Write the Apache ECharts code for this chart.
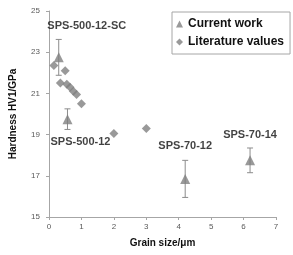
<!DOCTYPE html>
<html><head><meta charset="utf-8">
<script src="https://cdn.jsdelivr.net/npm/echarts@6/dist/echarts.min.js"></script>
<style>html,body{margin:0;padding:0;background:#fff}#c{width:293px;height:255px}</style>
</head><body><div id="c"></div>
<script>
// Data
const currentNames = ['SPS-500-12-SC', 'SPS-500-12', 'SPS-70-12', 'SPS-70-14'];
const currentX = [0.3, 0.57, 4.2, 6.2];
const currentY = [22.75, 19.75, 16.85, 17.75];
const currentErr = [0.87, 0.5, 0.9, 0.6];
const literatureX = [0.15, 0.5, 0.35, 0.55, 0.65, 0.75, 0.85, 1.0, 2.0, 3.0];
const literatureY = [22.35, 22.1, 21.5, 21.45, 21.3, 21.1, 20.95, 20.5, 19.05, 19.3];
const xTicks = [0, 1, 2, 3, 4, 5, 6, 7];
const yTicks = [15, 17, 19, 21, 23, 25];

const grey = '#7f7f7f';
const labelOffsets = [[28, -31], [13, 23], [0, -33], [0, -25]];

const chart = echarts.init(document.getElementById('c'), null, {renderer: 'canvas'});
chart.setOption({
  animation: false,
  textStyle: {fontFamily: 'Liberation Sans'},
  grid: {left: 47, right: 17, top: 11, bottom: 38},
  legend: {
    orient: 'vertical', left: 172, top: 12,
    padding: [6, 6, 6, 4], itemGap: 6, itemWidth: 7, itemHeight: 7,
    borderColor: '#a6a6a6', borderWidth: 1,
    textStyle: {fontSize: 12, fontWeight: 'bold', color: '#111', fontFamily: 'Liberation Sans'},
    data: [{name: 'Current work', icon: 'triangle'}, {name: 'Literature values', icon: 'diamond'}]
  },
  xAxis: {
    type: 'value', min: xTicks[0], max: xTicks[xTicks.length - 1], interval: 1,
    name: 'Grain size/μm', nameLocation: 'middle', nameGap: 21,
    nameTextStyle: {fontSize: 10, fontWeight: 'bold', color: '#111'},
    axisLine: {lineStyle: {color: '#a6a6a6'}},
    axisTick: {show: true, length: 3, lineStyle: {color: '#a6a6a6'}},
    axisLabel: {fontSize: 8, color: '#595959', margin: 6},
    splitLine: {show: false}
  },
  yAxis: {
    type: 'value', min: yTicks[0], max: yTicks[yTicks.length - 1], interval: 2,
    name: 'Hardness HV1/GPa', nameLocation: 'middle', nameGap: 31,
    nameTextStyle: {fontSize: 10, fontWeight: 'bold', color: '#111'},
    axisLine: {show: true, lineStyle: {color: '#a6a6a6'}},
    axisTick: {show: true, length: 3, lineStyle: {color: '#a6a6a6'}},
    axisLabel: {fontSize: 8, color: '#595959', margin: 9},
    splitLine: {show: false}
  },
  series: [
    {
      name: 'Error', type: 'custom', z: 1,
      data: currentX.map((x, i) => [x, currentY[i] - currentErr[i], currentY[i] + currentErr[i]]),
      renderItem: function (params, api) {
        const lo = api.coord([api.value(0), api.value(1)]);
        const hi = api.coord([api.value(0), api.value(2)]);
        const w = 3;
        const style = {stroke: '#8c8c8c', lineWidth: 1};
        return {type: 'group', children: [
          {type: 'line', shape: {x1: hi[0], y1: hi[1], x2: lo[0], y2: lo[1]}, style},
          {type: 'line', shape: {x1: hi[0] - w, y1: hi[1], x2: hi[0] + w, y2: hi[1]}, style},
          {type: 'line', shape: {x1: lo[0] - w, y1: lo[1], x2: lo[0] + w, y2: lo[1]}, style}
        ]};
      }
    },
    {
      name: 'Literature values', type: 'scatter', symbol: 'diamond', symbolSize: 9, z: 2,
      itemStyle: {color: grey},
      data: literatureX.map((x, i) => [x, literatureY[i]])
    },
    {
      name: 'Current work', type: 'scatter', symbol: 'triangle', symbolSize: [10, 10], z: 3,
      itemStyle: {color: grey},
      data: currentX.map((x, i) => ({
        value: [x, currentY[i]], name: currentNames[i],
        label: {show: true, formatter: currentNames[i], position: 'inside', offset: labelOffsets[i],
          fontSize: 11, fontWeight: 'bold', color: '#111', fontFamily: 'Liberation Sans'}
      }))
    }
  ]
});
</script></body></html>
